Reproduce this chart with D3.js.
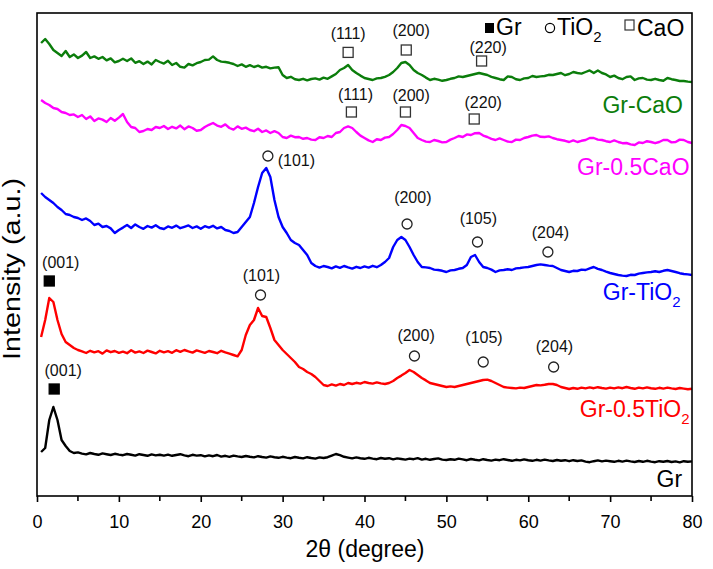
<!DOCTYPE html>
<html lang="en">
<head>
<meta charset="UTF-8">
<title>XRD patterns</title>
<script src="https://d3js.org/d3.v7.min.js"></script>
<style>
    body { margin: 0; padding: 0; background: #fff; }
    text { font-family: "Liberation Sans", Arial, sans-serif; }
</style>
</head>
<body>
<svg id="chart" width="713" height="569"></svg>
<script>
    // 2-theta sampling grid (degree)
    const twoTheta = d3.range(0.5, 80.001, 0.5);

    // intensities (a.u., stacked with offsets as in the figure)
    const grValues = [
        22, 24, 38, 44.5, 38, 28, 25, 22.5, 21.5, 21.8,
        21.2, 20.8, 21.5, 21, 20.6, 21.3, 20.9, 20.5, 21.1, 20.7,
        20.4, 21, 20.6, 20.2, 20.9, 20.5, 20.1, 20.8, 20.3, 20.6,
        20.2, 20.7, 20.1, 20.5, 20.9, 20.3, 19.9, 20.6, 20.2, 20.4,
        19.8, 20.3, 19.9, 20.5, 19.7, 20.1, 19.6, 20.2, 19.8, 19.5,
        20, 19.6, 19.3, 19.9, 19.5, 19.2, 19.8, 19.4, 19.1, 19.6,
        19.2, 18.9, 19.5, 19.1, 18.8, 19.4, 19, 18.7, 19.3, 19,
        19.4, 20.2, 21, 20.4, 19.6, 19.2, 18.8, 19.3, 18.9, 18.6,
        19.1, 18.7, 18.4, 19, 18.6, 18.9, 18.3, 18.8, 18.5, 18.2,
        18.7, 18.4, 18.9, 18.2, 18.6, 18.1, 18.5, 18.8, 18.2, 18,
        18.4, 18.1, 18.7, 18.3, 17.9, 18.5, 18.1, 17.8, 18.4, 18,
        17.7, 18.2, 17.9, 18.4, 18, 17.6, 18.1, 17.8, 18.3, 17.9,
        17.6, 18.1, 17.7, 18.2, 17.8, 17.5, 18, 17.6, 17.9, 17.4,
        17.9, 17.5, 17.8, 17.2, 16.9, 17.4, 17.8, 17.3, 17.7, 17.4,
        17.1, 17.6, 17.2, 17.7, 17.3, 17, 17.5, 17.1, 17.6, 17.2,
        16.9, 17.4, 17.1, 17.5, 17, 17.3, 16.8, 17.4, 17.1, 17.3
    ];

    const gr05TiO2Values = [
        79.5, 88, 99, 97, 88, 81, 77, 75.5, 74, 73,
        72.3, 71.5, 72.6, 71.8, 72.4, 71.2, 72.8, 71.9, 72.5, 71.6,
        72.2, 71.4, 72.9, 71.7, 72.3, 71.5, 72.7, 72, 71.3, 72.6,
        71.8, 72.4, 71.6, 72.9, 72.1, 73, 72.3, 71.7, 72.8, 72.2,
        71.6, 72.5, 72, 71.4, 72.6, 71.8, 71.2, 70.5, 69.8, 73,
        80.5, 85.5, 88, 94, 90, 89.5, 84, 78, 75.5, 73,
        71, 69, 67, 64.5, 63.5, 62, 61, 59.5, 57.5, 55.5,
        55, 55.8, 55.2, 56, 55.5, 56.5, 56, 56.6, 56.2, 57,
        56.5, 56.2, 56.8, 56.3, 56, 56.5, 57.5, 59, 60.2, 61.5,
        63, 62, 60.5, 59, 57.8, 56.5, 56, 55.5, 55, 54.5,
        54.8, 54.5, 55, 55.5, 56, 56.5, 57, 57.5, 58, 58.2,
        57.5, 56.5, 55.5, 54.5, 54.2, 54, 53.8, 54.2, 54, 54.5,
        55, 55.5, 55.3, 55.6, 56, 56, 55.5, 54.5, 54, 53.5,
        54, 53.6, 54.2, 53.8, 54.3, 53.9, 54.4, 54, 53.7, 54.2,
        53.8, 54.3, 53.9, 54.5, 54, 53.6, 54.2, 53.8, 54.3, 53.9,
        53.6, 54.1, 53.7, 54.2, 53.8, 53.5, 54, 53.7, 53.4, 53.6
    ];

    const grTiO2Values = [
        151.5, 149.5, 148, 146.5, 144.5, 143, 141, 140.5, 139.5, 139,
        138, 138.8, 137.5, 135.5, 136.2, 134.5, 135, 133.8, 131.5, 133,
        134.2, 135.5, 134, 135.8, 134.5, 133.6, 135, 134.2, 135.4, 134,
        133.5, 134.8, 134.1, 135.2, 133.9, 134.6, 135.3, 134, 134.8, 133.6,
        134.9, 134.2, 135.1, 133.8, 134.5, 133, 132.5, 131.5, 132, 134.5,
        137, 139.5, 146.5, 154.5, 161.5, 164, 159.5, 148, 139.5, 134.5,
        131.5, 128, 126.5, 125.5, 123, 120.5, 116.5, 115, 114.2, 115,
        114.5, 113.8, 114.8, 114.1, 115, 114.3, 113.7, 114.6, 114, 114.8,
        114.2, 115.1, 114.4, 115.5, 117, 119, 124.5, 128, 129.5, 128,
        124.5, 120.5, 117, 114.5, 114.3, 114, 113.2, 113, 112.6, 112,
        112.8, 113, 113.6, 114, 115.5, 119.5, 120.5, 117, 114.5, 114,
        113.2, 112, 112.8, 113, 113.4, 113, 113.8, 114, 114.3, 114.5,
        115, 115.5, 115.8, 115.5, 115.2, 115, 114, 113, 112.5, 112,
        112.6, 112.5, 113.2, 113, 113.8, 114.5, 113.6, 113, 112.2, 111.5,
        111, 110.5, 110.2, 110, 110.6, 110.5, 111.2, 111.5, 111.8, 112,
        112.4, 112, 112.6, 113, 112.5, 112, 111.4, 111, 110.8, 110.5
    ];

    const gr05CaOValues = [
        198, 196.5, 195.5, 194, 193.5, 192, 191.5, 190.5, 190.8, 189.5,
        190.5, 188.5, 189.8, 187.5, 188.8, 188.2, 187, 189, 187.6, 189.2,
        191, 187, 184.5, 184, 182, 182.5, 183.5, 183, 184.5, 184,
        185, 183.5, 184.6, 183.8, 185.2, 183.4, 184.8, 184, 182.6, 183,
        184.5, 185.6, 186.5, 185.2, 184.6, 185.8, 184, 183.2, 184.8, 183.6,
        184.2, 183, 182.4, 183.6, 182, 182.8, 181.5, 182.4, 181.5, 179.5,
        179, 180.2, 179.4, 179.5, 178.6, 179, 178.2, 178, 179.4, 179,
        180, 179.5, 181.5, 182, 184, 184.8, 184, 182, 180.2, 179,
        177.8, 177, 178.4, 178, 179.2, 179.5, 181, 183, 185.5, 185,
        184, 181.5, 179, 178, 177.2, 177, 178, 177.5, 176.8, 177,
        178.2, 179, 180, 179.5, 180.8, 180.5, 181.4, 181.5, 180.2, 179.5,
        178.6, 178, 178.8, 178, 177.2, 177, 178.2, 178, 179, 179.5,
        180.2, 180.5, 179.6, 179.5, 179.8, 179, 178.4, 178, 177.6, 177,
        177.8, 177, 177.6, 178, 179, 179, 178.2, 178, 177.4, 177,
        177.8, 177, 176.4, 176.5, 175.8, 175.5, 176.8, 176.5, 177.4, 177,
        176.4, 177, 178, 178, 176.8, 177, 178.2, 178, 177, 176.5
    ];

    const grCaOValues = [
        226.5, 228.5, 226, 223, 221.5, 220, 222.5, 219.5, 220.8, 219,
        220.2, 222, 219, 219.8, 218.6, 219.5, 217.8, 218.8, 216.8, 217.5,
        218.6, 217.5, 218.8, 216.6, 217.4, 216, 217.2, 215.8, 218, 217,
        216.2, 217.6, 215.5, 216.5, 214.6, 214.2, 216, 215.3, 216.4, 217,
        218, 218.2, 219.8, 218, 217.2, 217, 216.6, 216, 215, 215.8,
        214.6, 215.4, 214.5, 215.2, 214.2, 214.6, 213.8, 214.2, 214.4, 210.5,
        209, 209.6, 208.4, 208, 208.6, 207.8, 208.5, 208.8, 208.2, 209.2,
        208.6, 209.8, 211, 213, 214, 215.5, 213, 211.5, 210.2, 209,
        208.5, 208, 208.8, 209, 209.6, 210.5, 212, 214, 216.5, 217,
        215.5, 213, 211.5, 210.5, 209.2, 208, 208.6, 208.2, 207.6, 208,
        208.6, 209, 209.8, 209.5, 210, 210.5, 211, 211.5, 211, 210.5,
        209.6, 209, 208.4, 208, 209.8, 209.5, 208.4, 208, 208.8, 209,
        210, 209.5, 209.8, 210, 210.6, 210.5, 211, 211.5, 210.4, 211,
        212, 211.5, 211.2, 212, 212.8, 211.5, 212.8, 211.5, 210.8, 209.5,
        210.2, 209, 208.4, 209.5, 209.8, 208, 208.8, 209, 208.2, 208,
        208.6, 208, 207.6, 209, 208.4, 208, 207.5, 207.5, 207.2, 207
    ];

    const xTicks = [0, 10, 20, 30, 40, 50, 60, 70, 80];
    const xMinorTicks = [5, 15, 25, 35, 45, 55, 65, 75];

    // series name, subscript, label position (2θ, a.u.)
    const seriesLabels = [
        ["Gr-CaO", "", 78.9, 191.5],
        ["Gr-0.5CaO", "", 79.7, 160.5],
        ["Gr-TiO", "2", 78.6, 98],
        ["Gr-0.5TiO", "2", 79.7, 39.5],
        ["Gr", "", 78.8, 4.5]
    ];

    // phase, marker 2θ, marker a.u., hkl, label 2θ, label a.u., anchor
    const peakMarks = [
        ["CaO", 38.0, 221.8, "(111)", 38.0, 231.3, "middle"],
        ["CaO", 45.1, 223.0, "(200)", 45.7, 232.8, "middle"],
        ["CaO", 54.3, 217.5, "(220)", 55.1, 224.5, "middle"],
        ["CaO", 38.4, 192.0, "(111)", 38.9, 200.8, "middle"],
        ["CaO", 45.0, 192.0, "(200)", 45.7, 200.3, "middle"],
        ["CaO", 53.4, 188.5, "(220)", 54.5, 196.8, "middle"],
        ["TiO2", 28.2, 170.0, "(101)", 29.4, 168.0, "start"],
        ["TiO2", 45.2, 136.0, "(200)", 45.9, 149.5, "middle"],
        ["TiO2", 53.8, 127.0, "(105)", 53.9, 139.0, "middle"],
        ["TiO2", 62.4, 122.0, "(204)", 62.7, 132.0, "middle"],
        ["Gr", 1.5, 107.5, "(001)", 2.9, 116.8, "middle"],
        ["TiO2", 27.3, 100.5, "(101)", 27.4, 110.3, "middle"],
        ["TiO2", 46.1, 70.0, "(200)", 46.3, 80.5, "middle"],
        ["TiO2", 54.5, 67.0, "(105)", 54.6, 79.5, "middle"],
        ["TiO2", 63.1, 64.5, "(204)", 63.2, 75.0, "middle"],
        ["Gr", 2.1, 53.5, "(001)", 3.2, 63.0, "middle"]
    ];

    const series = [
        { name: "Gr-CaO", values: grCaOValues, color: "#0b7d0b" },
        { name: "Gr-0.5CaO", values: gr05CaOValues, color: "#ff00ff" },
        { name: "Gr-TiO2", values: grTiO2Values, color: "#0000ff" },
        { name: "Gr-0.5TiO2", values: gr05TiO2Values, color: "#ff0000" },
        { name: "Gr", values: grValues, color: "#000000" }
    ];

    const svg = d3.select("#chart");
    const plotLeft = 37, plotRight = 692, plotTop = 13, plotBottom = 496;

    const x = d3.scaleLinear().domain([0, 80]).range([plotLeft, plotRight]);
    const y = d3.scaleLinear().domain([0, 241.5]).range([plotBottom, plotTop]);

    const line = d3.line()
        .x(function(d) { return x(d[0]); })
        .y(function(d) { return y(d[1]); });

    const g = svg.append("g");

    series.forEach(function(s) {
        const pts = twoTheta.map(function(t, i) { return [t, s.values[i]]; })
            .filter(function(d) { return d[1] !== undefined; });
        g.append("path")
            .datum(pts)
            .attr("fill", "none")
            .attr("stroke", s.color)
            .attr("stroke-width", 2.4)
            .attr("stroke-linejoin", "round")
            .attr("d", line);
    });

    // frame
    svg.append("rect")
        .attr("x", plotLeft).attr("y", plotTop)
        .attr("width", plotRight - plotLeft).attr("height", plotBottom - plotTop)
        .attr("fill", "none").attr("stroke", "#000").attr("stroke-width", 1.6);

    // x axis
    const xAxis = svg.append("g")
        .attr("transform", "translate(0," + plotBottom + ")")
        .call(d3.axisBottom(x).tickValues(xTicks).tickSize(6).tickPadding(13).tickSizeOuter(0));
    xAxis.select(".domain").remove();
    xAxis.selectAll(".tick line").attr("stroke-width", 1.6);
    xAxis.selectAll(".tick text")
        .attr("font-size", "18px")
        .attr("font-family", "Liberation Sans, Arial, sans-serif")
        .attr("fill", "#000");

    svg.append("g")
        .attr("transform", "translate(0," + plotBottom + ")")
        .selectAll("line")
        .data(xMinorTicks)
        .enter()
        .append("line")
        .attr("x1", function(d) { return x(d); })
        .attr("x2", function(d) { return x(d); })
        .attr("y1", 0).attr("y2", 5)
        .attr("stroke", "#000").attr("stroke-width", 1.6);

    // axis titles
    svg.append("text")
        .attr("x", 365).attr("y", 557)
        .attr("text-anchor", "middle")
        .attr("font-size", "23px")
        .text("2θ (degree)");

    svg.append("text")
        .attr("transform", "translate(20,269) rotate(-90)")
        .attr("text-anchor", "middle")
        .attr("font-size", "23px")
        .attr("textLength", 182)
        .attr("lengthAdjust", "spacingAndGlyphs")
        .text("Intensity (a.u.)");

    // series labels
    seriesLabels.forEach(function(l, i) {
        const t = svg.append("text")
            .attr("x", x(l[2])).attr("y", y(l[3]))
            .attr("text-anchor", "end")
            .attr("font-size", "23px")
            .attr("fill", series[i].color);
        t.append("tspan").text(l[0]);
        if (l[1]) {
            t.append("tspan").attr("font-size", "15px").attr("dy", "7").text(l[1]);
        }
    });

    // peak markers
    function drawMarker(sel, kind, cx, cy) {
        if (kind === "TiO2") {
            sel.append("circle")
                .attr("cx", cx).attr("cy", cy).attr("r", 5)
                .attr("fill", "#fff").attr("stroke", "#222").attr("stroke-width", 1.3);
        } else {
            const size = 10;
            sel.append("rect")
                .attr("x", cx - size / 2).attr("y", cy - size / 2)
                .attr("width", size).attr("height", size)
                .attr("fill", kind === "Gr" ? "#000" : "#fff")
                .attr("stroke", kind === "Gr" ? "#000" : "#333")
                .attr("stroke-width", 1.3);
        }
    }

    const marks = svg.append("g");
    peakMarks.forEach(function(p) {
        drawMarker(marks, p[0], x(p[1]), y(p[2]));
        marks.append("text")
            .attr("x", x(p[4])).attr("y", y(p[5]))
            .attr("dy", "0.35em")
            .attr("text-anchor", p[6])
            .attr("font-size", "16px")
            .attr("fill", "#111")
            .text(p[3]);
    });

    // legend
    const legend = svg.append("g");
    legend.append("rect").attr("x", 485).attr("y", 23).attr("width", 9).attr("height", 10).attr("fill", "#000");
    legend.append("text").attr("x", 496).attr("y", 35).attr("font-size", "23px").text("Gr");
    legend.append("circle").attr("cx", 550).attr("cy", 28).attr("r", 4.6)
        .attr("fill", "#fff").attr("stroke", "#000").attr("stroke-width", 1.2);
    const tio = legend.append("text").attr("x", 557).attr("y", 35).attr("font-size", "23px");
    tio.append("tspan").text("TiO");
    tio.append("tspan").attr("font-size", "15px").attr("dy", "7").text("2");
    legend.append("rect").attr("x", 625).attr("y", 20).attr("width", 9).attr("height", 10)
        .attr("fill", "#fff").attr("stroke", "#333").attr("stroke-width", 1.2);
    legend.append("text").attr("x", 637).attr("y", 36).attr("font-size", "23px").text("CaO");
</script>
</body>
</html>
